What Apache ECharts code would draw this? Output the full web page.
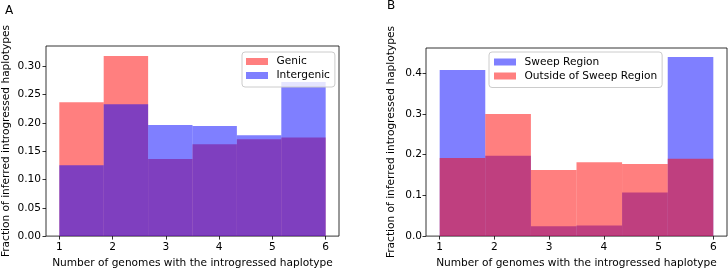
<!DOCTYPE html>
<html>
<head>
<meta charset="utf-8">
<script src="https://cdn.jsdelivr.net/npm/echarts@6/dist/echarts.min.js"></script>
<style>
  html, body { margin: 0; padding: 0; background: #fff; }
  #main { width: 728px; height: 274px; }
</style>
</head>
<body>
<div id="main"></div>
<script>
// histogram bin edges (shared by both panels)
const binEdges = [1, 1.833, 2.667, 3.5, 4.333, 5.167, 6];
const xTicks = [1, 2, 3, 4, 5, 6];

// panel A
const genic = [0.2365, 0.318, 0.136, 0.162, 0.171, 0.174];
const intergenic = [0.125, 0.233, 0.196, 0.1946, 0.178, 0.272];
const yTicksA = [0, 0.05, 0.10, 0.15, 0.20, 0.25, 0.30];

// panel B
const sweep = [0.408, 0.197, 0.0244, 0.026, 0.107, 0.4397];
const outside = [0.1915, 0.2995, 0.1623, 0.181, 0.177, 0.19];
const yTicksB = [0, 0.1, 0.2, 0.3, 0.4];

const FONT = 'DejaVu Sans';
const FS = 10.6;

function histData(vals) {
  return vals.map((v, i) => [binEdges[i], binEdges[i + 1], v]);
}

function renderBin(params, api) {
  const p0 = api.coord([api.value(0), api.value(2)]);
  const p1 = api.coord([api.value(1), 0]);
  return {
    type: 'rect',
    shape: { x: p0[0], y: p0[1], width: p1[0] - p0[0], height: p1[1] - p0[1] },
    style: api.style()
  };
}

function histSeries(name, vals, color, idx) {
  return {
    name: name,
    type: 'custom',
    xAxisIndex: idx,
    yAxisIndex: idx,
    renderItem: renderBin,
    encode: { x: [0, 1], y: 2 },
    itemStyle: { color: color },
    data: histData(vals),
    silent: true
  };
}

function xAxis(idx) {
  return {
    type: 'value',
    gridIndex: idx,
    min: 0.75,
    max: 6.25,
    name: 'Number of genomes with the introgressed haplotype',
    nameLocation: 'middle',
    nameGap: 19,
    nameTextStyle: { fontFamily: FONT, fontSize: FS, color: '#000' },
    axisLine: { show: false },
    axisTick: { show: true, length: 3.5, customValues: xTicks, lineStyle: { color: '#000', width: 0.8 } },
    axisLabel: { customValues: xTicks, margin: 6, fontFamily: FONT, fontSize: FS, color: '#000' },
    splitLine: { show: false }
  };
}

function yAxis(idx, max, ticks, digits, gap, margin) {
  return {
    type: 'value',
    gridIndex: idx,
    min: 0,
    max: max,
    name: 'Fraction of inferred introgressed haplotypes',
    nameLocation: 'middle',
    nameGap: gap,
    nameTextStyle: { fontFamily: FONT, fontSize: FS, color: '#000' },
    axisLine: { show: false },
    axisTick: { show: true, length: 3.5, customValues: ticks, lineStyle: { color: '#000', width: 0.8 } },
    axisLabel: {
      customValues: ticks, margin: margin, fontFamily: FONT, fontSize: FS, color: '#000',
      formatter: v => v.toFixed(digits)
    },
    splitLine: { show: false }
  };
}

function legend(left, top, names, padding) {
  return {
    data: names,
    orient: 'vertical',
    left: left,
    top: top,
    icon: 'rect',
    itemWidth: 22,
    itemHeight: 7,
    itemGap: 3,
    padding: padding,
    backgroundColor: 'rgba(255,255,255,0.8)',
    borderColor: '#ccc',
    borderWidth: 1,
    borderRadius: 3,
    selectedMode: false,
    textStyle: { fontFamily: FONT, fontSize: FS, color: '#000', padding: [0, 0, 0, 3.5] }
  };
}

const chart = echarts.init(document.getElementById('main'), null, { renderer: 'canvas' });
chart.setOption({
  animation: false,
  backgroundColor: '#fff',
  title: [
    { text: 'A', left: 5, top: 5, padding: 0, textStyle: { fontFamily: FONT, fontSize: 12, fontWeight: 'normal', color: '#000' } },
    { text: 'B', left: 387, top: 0, padding: 0, textStyle: { fontFamily: FONT, fontSize: 12, fontWeight: 'normal', color: '#000' } }
  ],
  grid: [
    { left: 43, top: 46, width: 296, height: 192, show: true, borderColor: '#000', borderWidth: 0.8, backgroundColor: 'transparent' },
    { left: 426, top: 48, width: 301, height: 195, show: true, borderColor: '#000', borderWidth: 0.8, backgroundColor: 'transparent' }
  ],
  legend: [
    legend(242, 52, ['Genic', 'Intergenic'], [4, 5, 6, 4]),
    legend(489, 52, ['Sweep Region', 'Outside of Sweep Region'], [4.5, 5, 6, 5])
  ],
  xAxis: [xAxis(0), xAxis(1)],
  yAxis: [yAxis(0, 0.3357, yTicksA, 2, 34, 5), yAxis(1, 0.4617, yTicksB, 1, 29, 4)],
  series: [
    histSeries('Genic', genic, 'rgba(255,0,0,0.5)', 0),
    histSeries('Intergenic', intergenic, 'rgba(0,0,255,0.5)', 0),
    histSeries('Sweep Region', sweep, 'rgba(0,0,255,0.5)', 1),
    histSeries('Outside of Sweep Region', outside, 'rgba(255,0,0,0.5)', 1)
  ]
});
</script>
</body>
</html>
